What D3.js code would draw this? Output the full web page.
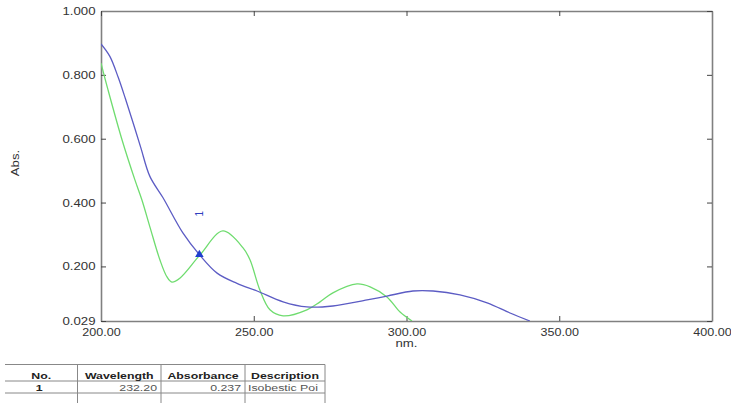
<!DOCTYPE html>
<html>
<head>
<meta charset="utf-8">
<script src="https://cdn.jsdelivr.net/npm/d3@7"></script>
<style>
  body { margin: 0; background: #fff; }
  text { font-family: "Liberation Sans", Arial, sans-serif; }
</style>
</head>
<body>
<svg id="chart" width="731" height="403"></svg>
<script>
// spectrum data (wavelength nm, absorbance)
var blueWl  = [200, 202.9, 205.6, 208.0, 210.5, 213.0, 216.0, 220.3, 226.8, 232.2, 238.0, 244.5, 251.1, 259.6, 267.4, 275.9, 287.1, 293.6, 302.1, 308.7, 317.5, 326.4, 333.9, 340.4];
var blueAbs = [0.897, 0.858, 0.793, 0.725, 0.650, 0.573, 0.482, 0.415, 0.305, 0.237, 0.179, 0.147, 0.123, 0.089, 0.073, 0.076, 0.095, 0.107, 0.123, 0.123, 0.111, 0.086, 0.054, 0.029];

var greenWl  = [200, 202.3, 206.9, 211.1, 213.4, 216.0, 219.3, 221.6, 223.2, 225.9, 232.4, 239.9, 246.5, 248.8, 252.0, 255.3, 259.6, 267.4, 271.7, 275.9, 283.8, 288.1, 293.6, 297.9, 301.8];
var greenAbs = [0.837, 0.753, 0.596, 0.471, 0.408, 0.324, 0.220, 0.167, 0.151, 0.164, 0.236, 0.311, 0.258, 0.220, 0.126, 0.064, 0.045, 0.064, 0.089, 0.117, 0.145, 0.136, 0.104, 0.057, 0.029];

var peakWl = [232.2];
var peakAbs = [0.237];
var peakNo = ["1"];

var xTicks = [200, 250, 300, 350, 400];
var yTicks = [0.029, 0.2, 0.4, 0.6, 0.8, 1.0];

var tableHeader = ["No.", "Wavelength", "Absorbance", "Description"];
var tableRow = ["1", "232.20", "0.237", "Isobestic Poi"];

var svg = d3.select("#chart");
// note: "top" is taken by window.top, so the plot edges get their own names
var pLeft = 101, pRight = 712, pTop = 11, pBottom = 321;

var x = d3.scaleLinear().domain([200, 400]).range([pLeft, pRight]);
var y = d3.scaleLinear().domain([0.029, 1.0]).range([pBottom, pTop]);

// clip so curves stop at the frame
svg.append("clipPath").attr("id", "plotclip")
  .append("rect").attr("x", pLeft).attr("y", pTop)
  .attr("width", pRight - pLeft).attr("height", pBottom - pTop);

var stretch = "scale(1.2,1)";

// axes: ticks point inward on all four sides
var gx = svg.append("g").attr("transform", "translate(0," + pBottom + ")")
  .call(d3.axisBottom(x).tickValues(xTicks).tickSizeInner(-5).tickSizeOuter(0)
    .tickPadding(7).tickFormat(d3.format(".2f")));
var gy = svg.append("g").attr("transform", "translate(" + pLeft + ",0)")
  .call(d3.axisLeft(y).tickValues(yTicks).tickSizeInner(-5).tickSizeOuter(0)
    .tickFormat(d3.format(".3f")));
var gt = svg.append("g").attr("transform", "translate(0," + pTop + ")")
  .call(d3.axisTop(x).tickValues(xTicks).tickSizeInner(-5).tickSizeOuter(0).tickFormat(""));
var gr = svg.append("g").attr("transform", "translate(" + pRight + ",0)")
  .call(d3.axisRight(y).tickValues(yTicks).tickSizeInner(-5).tickSizeOuter(0).tickFormat(""));

[gx, gy, gt, gr].forEach(function(g) {
  g.select(".domain").attr("stroke", "#808080").attr("stroke-width", 1.6);
  g.selectAll(".tick line").attr("stroke", "#444");
  g.selectAll("text").attr("fill", "#333").style("font-size", "11px");
});
gy.selectAll(".tick text").attr("x", -4.6).attr("transform", stretch);
gx.selectAll(".tick text").attr("transform", "scale(1.14,1)");

svg.append("text")
  .attr("transform", "translate(19,163) rotate(-90) " + stretch)
  .attr("text-anchor", "middle").attr("fill", "#333").style("font-size", "11px")
  .text("Abs.");

svg.append("text")
  .attr("transform", "translate(" + ((pLeft + pRight) / 2) + ",347) " + stretch)
  .attr("text-anchor", "middle").attr("fill", "#333").style("font-size", "11px")
  .text("nm.");

// curves
var line = d3.line()
  .x(function(d) { return x(d[0]); })
  .y(function(d) { return y(d[1]); })
  .curve(d3.curveCatmullRom.alpha(0.5));

var plot = svg.append("g").attr("clip-path", "url(#plotclip)");

plot.append("path")
  .datum(d3.zip(greenWl, greenAbs))
  .attr("d", line).attr("fill", "none")
  .attr("stroke", "#6fdc6f").attr("stroke-width", 1.3);

plot.append("path")
  .datum(d3.zip(blueWl, blueAbs))
  .attr("d", line).attr("fill", "none")
  .attr("stroke", "#5c5cc4").attr("stroke-width", 1.3);

// isobestic point marker and its number
var peaks = d3.zip(peakWl, peakAbs, peakNo);
svg.selectAll(".peak").data(peaks).enter().append("path")
  .attr("class", "peak")
  .attr("transform", function(d) { return "translate(" + x(d[0]) + "," + y(d[1]) + ")"; })
  .attr("d", d3.symbol().type(d3.symbolTriangle).size(32))
  .attr("fill", "#1f3fcf");

svg.selectAll(".peaklabel").data(peaks).enter().append("text")
  .attr("class", "peaklabel")
  .attr("transform", function(d) { return "translate(" + (x(d[0]) + 3.5) + "," + (y(d[1]) - 41) + ") rotate(-90)"; })
  .attr("text-anchor", "middle").attr("fill", "#3040c0").style("font-size", "10px")
  .text(function(d) { return d[2]; });

// peak table under the chart
var colEdges = [5, 77.5, 161, 245, 325];
var rowLines = [364.5, 381, 393];
var tbl = svg.append("g");

tbl.selectAll(".hline").data(rowLines).enter().append("line")
  .attr("x1", colEdges[0]).attr("x2", colEdges[4])
  .attr("y1", function(d) { return d; }).attr("y2", function(d) { return d; })
  .attr("stroke", "#888").attr("stroke-width", 1);

tbl.selectAll(".vline").data(colEdges.slice(1)).enter().append("line")
  .attr("x1", function(d) { return d; }).attr("x2", function(d) { return d; })
  .attr("y1", rowLines[0]).attr("y2", 403)
  .attr("stroke", "#888").attr("stroke-width", 1);

var tstretch = "scale(1.3,1)";
tableHeader.forEach(function(h, i) {
  var cx = (colEdges[i] + colEdges[i + 1]) / 2;
  tbl.append("text")
    .attr("transform", "translate(" + cx + ",378.5) " + tstretch)
    .attr("text-anchor", "middle").attr("fill", "#222")
    .style("font-size", "9.5px").style("font-weight", "bold")
    .text(h);
});

svg.append("clipPath").attr("id", "descclip")
  .append("rect").attr("x", colEdges[3]).attr("y", rowLines[1])
  .attr("width", colEdges[4] - colEdges[3] - 1).attr("height", 12);
var descCell = tbl.append("g").attr("clip-path", "url(#descclip)");

tableRow.forEach(function(v, i) {
  var t = (i === 3 ? descCell : tbl).append("text").attr("fill", i === 0 ? "#222" : "#555")
    .style("font-size", "9.5px").text(v);
  var px, anchor;
  if (i === 0) { px = (colEdges[0] + colEdges[1]) / 2 - 2; anchor = "middle"; t.style("font-weight", "bold"); }
  else if (i === 3) { px = colEdges[3] + 3; anchor = "start"; }
  else { px = colEdges[i + 1] - 4; anchor = "end"; }
  t.attr("transform", "translate(" + px + ",390.5) " + tstretch).attr("text-anchor", anchor);
});
</script>
</body>
</html>
